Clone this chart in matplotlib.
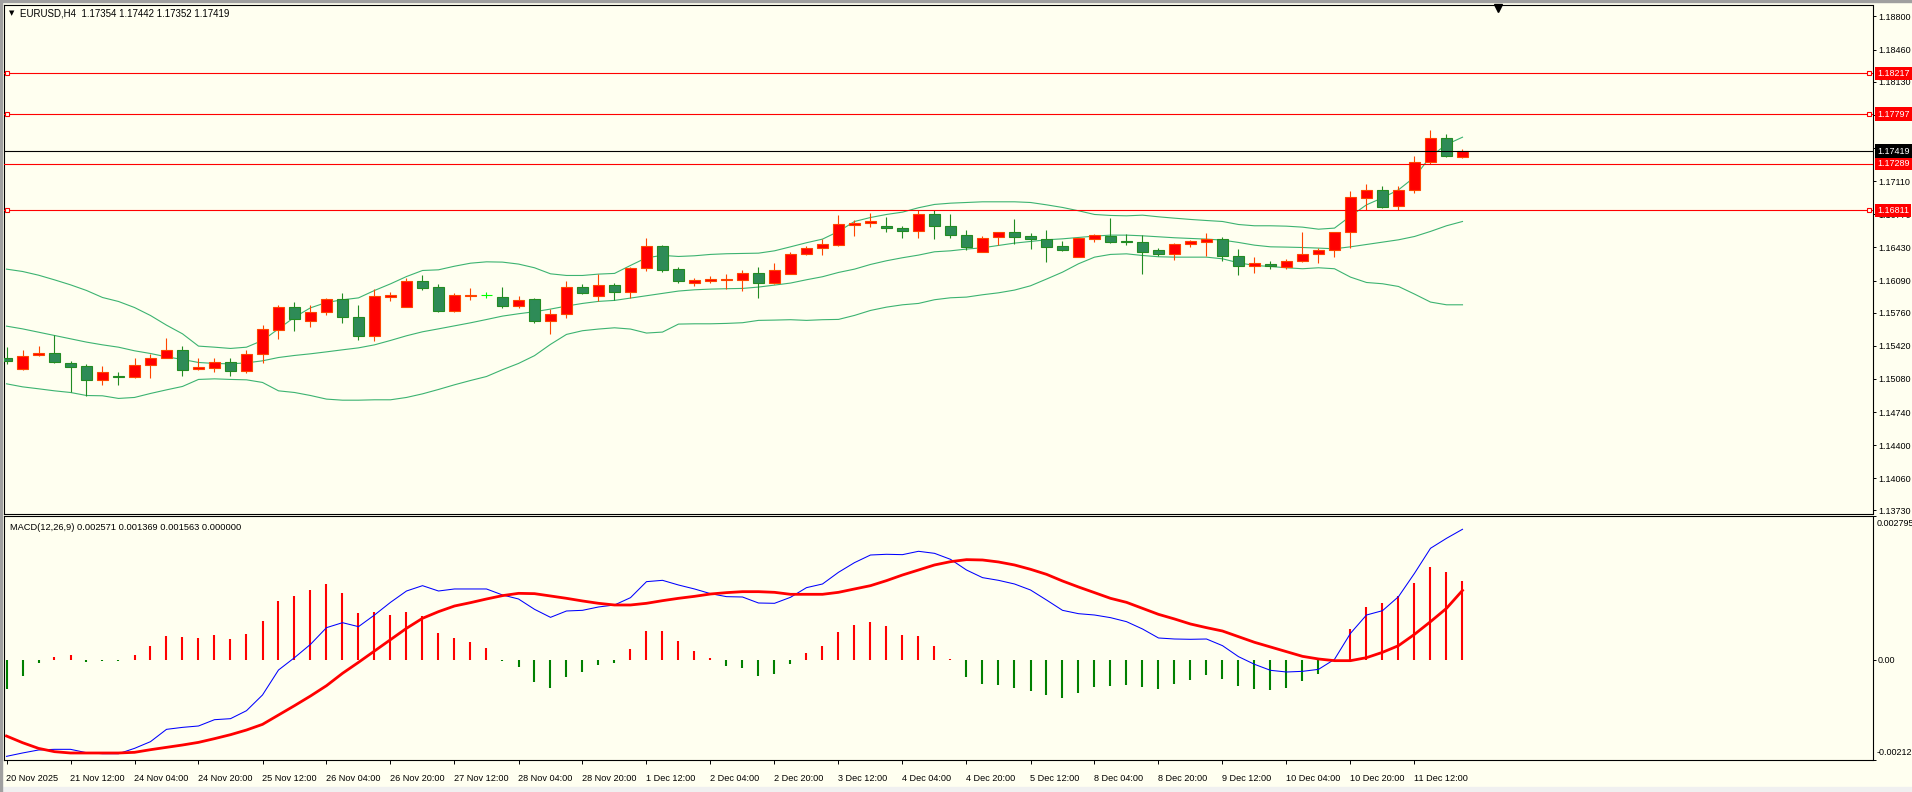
import numpy as np
import matplotlib.pyplot as plt
import matplotlib.transforms as mtransforms
from matplotlib.patches import Rectangle

# ---- data (EURUSD H4, 20 Nov 20:00 .. 12 Dec 00:00) ----
opens = [1.15290, 1.15180, 1.15324, 1.15351, 1.15245, 1.15208, 1.15071, 1.15109, 1.15098, 1.15225,
         1.15297, 1.15382, 1.15180, 1.15194, 1.15256, 1.15160, 1.15334, 1.15581, 1.15820, 1.15673,
         1.15765, 1.15902, 1.15717, 1.15519, 1.15919, 1.15817, 1.16087, 1.16025, 1.15776, 1.15936,
         1.15940, 1.15923, 1.15828, 1.15896, 1.15677, 1.15749, 1.16026, 1.15930, 1.16047, 1.15971,
         1.16221, 1.16447, 1.16211, 1.16067, 1.16084, 1.16098, 1.16098, 1.16170, 1.16067, 1.16159,
         1.16365, 1.16426, 1.16457, 1.16662, 1.16679, 1.16652, 1.16631, 1.16601, 1.16775, 1.16652,
         1.16560, 1.16385, 1.16539, 1.16590, 1.16542, 1.16518, 1.16440, 1.16330, 1.16518, 1.16552,
         1.16491, 1.16488, 1.16399, 1.16361, 1.16464, 1.16484, 1.16518, 1.16344, 1.16238, 1.16262,
         1.16228, 1.16293, 1.16361, 1.16405, 1.16590, 1.16939, 1.17021, 1.16854, 1.17018, 1.17305,
         1.17555, 1.17354]
highs = [1.15406, 1.15382, 1.15423, 1.15533, 1.15269, 1.15235, 1.15208, 1.15150, 1.15290, 1.15338,
         1.15505, 1.15413, 1.15290, 1.15300, 1.15300, 1.15372, 1.15629, 1.15844, 1.15865, 1.15834,
         1.15912, 1.15957, 1.15841, 1.16005, 1.15977, 1.16118, 1.16142, 1.16056, 1.15967, 1.16018,
         1.15970, 1.16019, 1.15927, 1.15906, 1.15794, 1.16081, 1.16050, 1.16153, 1.16060, 1.16225,
         1.16522, 1.16450, 1.16231, 1.16112, 1.16139, 1.16159, 1.16194, 1.16231, 1.16265, 1.16378,
         1.16443, 1.16515, 1.16758, 1.16707, 1.16778, 1.16737, 1.16645, 1.16816, 1.16809, 1.16768,
         1.16604, 1.16542, 1.16592, 1.16717, 1.16573, 1.16604, 1.16491, 1.16529, 1.16563, 1.16727,
         1.16570, 1.16556, 1.16429, 1.16477, 1.16501, 1.16573, 1.16539, 1.16409, 1.16327, 1.16286,
         1.16313, 1.16583, 1.16429, 1.16592, 1.17004, 1.17076, 1.17062, 1.17062, 1.17363, 1.17630,
         1.17599, 1.17442]
lows = [1.15235, 1.15167, 1.15314, 1.15242, 1.14944, 1.14907, 1.15016, 1.15016, 1.15092, 1.15088,
        1.15290, 1.15109, 1.15170, 1.15150, 1.15109, 1.15139, 1.15242, 1.15488, 1.15577, 1.15618,
        1.15741, 1.15652, 1.15475, 1.15468, 1.15885, 1.15817, 1.15991, 1.15765, 1.15765, 1.15895,
        1.15909, 1.15807, 1.15807, 1.15653, 1.15540, 1.15705, 1.15947, 1.15879, 1.15886, 1.15906,
        1.16187, 1.16180, 1.16060, 1.16029, 1.16060, 1.16006, 1.15982, 1.15910, 1.16050, 1.16153,
        1.16351, 1.16351, 1.16443, 1.16549, 1.16638, 1.16583, 1.16525, 1.16525, 1.16515, 1.16529,
        1.16399, 1.16385, 1.16450, 1.16467, 1.16412, 1.16279, 1.16392, 1.16330, 1.16484, 1.16474,
        1.16453, 1.16156, 1.16337, 1.16299, 1.16433, 1.16337, 1.16289, 1.16146, 1.16166, 1.16207,
        1.16207, 1.16279, 1.16265, 1.16330, 1.16426, 1.16816, 1.16833, 1.16819, 1.16987, 1.17288,
        1.17353, 1.17352]
closes = [1.15263, 1.15317, 1.15348, 1.15252, 1.15201, 1.15068, 1.15153, 1.15102, 1.15225, 1.15300,
          1.15379, 1.15170, 1.15198, 1.15256, 1.15160, 1.15338, 1.15588, 1.15820, 1.15694, 1.15772,
          1.15902, 1.15714, 1.15519, 1.15933, 1.15943, 1.16087, 1.16012, 1.15776, 1.15943, 1.15943,
          1.15940, 1.15828, 1.15893, 1.15677, 1.15749, 1.16026, 1.15961, 1.16047, 1.15971, 1.16221,
          1.16447, 1.16197, 1.16088, 1.16091, 1.16101, 1.16101, 1.16170, 1.16067, 1.16200, 1.16365,
          1.16426, 1.16460, 1.16666, 1.16683, 1.16703, 1.16631, 1.16601, 1.16775, 1.16652, 1.16560,
          1.16436, 1.16529, 1.16590, 1.16535, 1.16515, 1.16433, 1.16402, 1.16522, 1.16559, 1.16484,
          1.16484, 1.16382, 1.16361, 1.16467, 1.16491, 1.16515, 1.16341, 1.16238, 1.16265, 1.16235,
          1.16293, 1.16364, 1.16399, 1.16590, 1.16949, 1.17021, 1.16843, 1.17021, 1.17308, 1.17555,
          1.17367, 1.17419]

bb_upper = [1.16207, 1.16183, 1.16145, 1.16097, 1.16046, 1.15988, 1.15916, 1.15875, 1.15813, 1.15731,
            1.15632, 1.15543, 1.15417, 1.15406, 1.15393, 1.15406, 1.15475, 1.15594, 1.15714, 1.15810,
            1.15865, 1.15892, 1.15912, 1.15988, 1.16056, 1.16131, 1.16193, 1.16200, 1.16237, 1.16268,
            1.16282, 1.16279, 1.16259, 1.16221, 1.16159, 1.16142, 1.16142, 1.16156, 1.16163, 1.16245,
            1.16324, 1.16348, 1.16337, 1.16344, 1.16358, 1.16365, 1.16368, 1.16371, 1.16395, 1.16436,
            1.16478, 1.16515, 1.16594, 1.16696, 1.16737, 1.16768, 1.16792, 1.16837, 1.16871, 1.16884,
            1.16891, 1.16898, 1.16898, 1.16898, 1.16891, 1.16867, 1.16840, 1.16806, 1.16768, 1.16758,
            1.16754, 1.16761, 1.16744, 1.16730, 1.16717, 1.16706, 1.16696, 1.16665, 1.16652, 1.16652,
            1.16648, 1.16638, 1.16617, 1.16628, 1.16751, 1.16867, 1.16939, 1.17021, 1.17151, 1.17363,
            1.17486, 1.17561]
bb_middle = [1.15622, 1.15594, 1.15560, 1.15526, 1.15492, 1.15458, 1.15430, 1.15406, 1.15369, 1.15341,
             1.15307, 1.15280, 1.15249, 1.15239, 1.15235, 1.15245, 1.15266, 1.15300, 1.15321, 1.15338,
             1.15358, 1.15379, 1.15399, 1.15430, 1.15475, 1.15523, 1.15564, 1.15594, 1.15625, 1.15656,
             1.15690, 1.15725, 1.15749, 1.15770, 1.15797, 1.15828, 1.15855, 1.15876, 1.15886, 1.15910,
             1.15934, 1.15958, 1.15982, 1.15995, 1.16002, 1.16006, 1.16009, 1.16023, 1.16043, 1.16064,
             1.16098, 1.16129, 1.16173, 1.16207, 1.16255, 1.16293, 1.16324, 1.16351, 1.16385, 1.16395,
             1.16413, 1.16426, 1.16450, 1.16474, 1.16491, 1.16508, 1.16518, 1.16532, 1.16546, 1.16556,
             1.16556, 1.16549, 1.16539, 1.16529, 1.16522, 1.16515, 1.16505, 1.16481, 1.16453, 1.16436,
             1.16433, 1.16429, 1.16423, 1.16416, 1.16436, 1.16460, 1.16484, 1.16508, 1.16542, 1.16594,
             1.16652, 1.16696]
bb_lower = [1.15030, 1.14999, 1.14979, 1.14958, 1.14941, 1.14910, 1.14907, 1.14880, 1.14890, 1.14931,
            1.14968, 1.15003, 1.15075, 1.15081, 1.15075, 1.15071, 1.15044, 1.14958, 1.14941, 1.14910,
            1.14873, 1.14862, 1.14862, 1.14866, 1.14866, 1.14890, 1.14927, 1.14972, 1.15020, 1.15064,
            1.15105, 1.15175, 1.15239, 1.15319, 1.15435, 1.15537, 1.15575, 1.15592, 1.15605, 1.15592,
            1.15551, 1.15561, 1.15643, 1.15646, 1.15646, 1.15650, 1.15657, 1.15681, 1.15684, 1.15688,
            1.15681, 1.15688, 1.15691, 1.15732, 1.15783, 1.15817, 1.15841, 1.15855, 1.15893, 1.15913,
            1.15920, 1.15944, 1.15964, 1.15992, 1.16036, 1.16105, 1.16176, 1.16262, 1.16330, 1.16358,
            1.16364, 1.16347, 1.16334, 1.16330, 1.16330, 1.16330, 1.16313, 1.16272, 1.16245, 1.16234,
            1.16221, 1.16211, 1.16221, 1.16211, 1.16125, 1.16070, 1.16057, 1.16029, 1.15951, 1.15869,
            1.15841, 1.15841]

macd_main = [-0.001895, -0.001829, -0.001770, -0.001757, -0.001757, -0.001823, -0.001843, -0.001843, -0.001738, -0.001606,
             -0.001364, -0.001325, -0.001298, -0.001174, -0.001154, -0.000997, -0.000688, -0.000197, 0.000046, 0.000308,
             0.000636, 0.000734, 0.000656, 0.000885, 0.001134, 0.001357, 0.001462, 0.001357, 0.001397, 0.001397,
             0.001397, 0.001279, 0.001200, 0.000997, 0.000839, 0.000964, 0.000977, 0.001043, 0.001082, 0.001226,
             0.001541, 0.001567, 0.001475, 0.001397, 0.001305, 0.001246, 0.001239, 0.001121, 0.001115, 0.001233,
             0.001423, 0.001495, 0.001725, 0.001915, 0.002065, 0.002079, 0.002072, 0.002138, 0.002098, 0.001980,
             0.001770, 0.001620, 0.001567, 0.001495, 0.001377, 0.001180, 0.000977, 0.000911, 0.000885, 0.000833,
             0.000754, 0.000610, 0.000433, 0.000413, 0.000407, 0.000413, 0.000282, 0.000066, -0.000085, -0.000203,
             -0.000236, -0.000223, -0.000184, 0.000013, 0.000525, 0.000885, 0.000970, 0.001246, 0.001705, 0.002197,
             0.002393, 0.002571]
macd_signal = [-0.001495, -0.001626, -0.001738, -0.001803, -0.001829, -0.001829, -0.001829, -0.001829, -0.001816, -0.001764,
               -0.001718, -0.001672, -0.001620, -0.001547, -0.001469, -0.001377, -0.001266, -0.001082, -0.000898, -0.000708,
               -0.000505, -0.000262, -0.000046, 0.000177, 0.000400, 0.000623, 0.000820, 0.000951, 0.001062, 0.001128,
               0.001200, 0.001266, 0.001311, 0.001305, 0.001259, 0.001213, 0.001161, 0.001115, 0.001082, 0.001082,
               0.001115, 0.001167, 0.001213, 0.001252, 0.001298, 0.001325, 0.001344, 0.001344, 0.001331, 0.001292,
               0.001292, 0.001292, 0.001331, 0.001397, 0.001462, 0.001561, 0.001672, 0.001770, 0.001869, 0.001934,
               0.001974, 0.001967, 0.001928, 0.001869, 0.001784, 0.001685, 0.001554, 0.001436, 0.001325, 0.001213,
               0.001134, 0.001016, 0.000898, 0.000807, 0.000708, 0.000636, 0.000570, 0.000459, 0.000348, 0.000256,
               0.000164, 0.000072, 0.000020, -0.000013, -0.000013, 0.000046, 0.000151, 0.000282, 0.000505, 0.000754,
               0.001016, 0.001369]
macd_hist = [-0.000570, -0.000308, -0.000052, 0.000059, 0.000098, -0.000033, -0.000020, -0.000026, 0.000098, 0.000275,
             0.000472, 0.000452, 0.000433, 0.000492, 0.000413, 0.000518, 0.000767, 0.001161, 0.001259, 0.001377,
             0.001495, 0.001318, 0.000925, 0.000951, 0.000885, 0.000951, 0.000872, 0.000531, 0.000433, 0.000348,
             0.000243, -0.000013, -0.000138, -0.000426, -0.000551, -0.000334, -0.000230, -0.000098, -0.000066, 0.000216,
             0.000570, 0.000570, 0.000374, 0.000177, 0.000033, -0.000118, -0.000151, -0.000308, -0.000275, -0.000072,
             0.000144, 0.000275, 0.000551, 0.000688, 0.000748, 0.000669, 0.000492, 0.000472, 0.000275, 0.000020,
             -0.000334, -0.000472, -0.000492, -0.000551, -0.000610, -0.000688, -0.000748, -0.000649, -0.000531, -0.000511,
             -0.000492, -0.000531, -0.000570, -0.000472, -0.000393, -0.000295, -0.000374, -0.000511, -0.000570, -0.000590,
             -0.000551, -0.000413, -0.000275, 0.000000, 0.000610, 0.001043, 0.001121, 0.001259, 0.001515, 0.001829,
             0.001731, 0.001563]

level_prices = [1.18217, 1.17797, 1.17289, 1.16811]
level_anchors = [True, True, False, True]
last_price = 1.17419

price_ticks = [1.18800, 1.18460, 1.18130, 1.17790, 1.17450, 1.17110, 1.16770, 1.16430,
               1.16090, 1.15760, 1.15420, 1.15080, 1.14740, 1.14400, 1.14060, 1.13730]
time_labels = ["20 Nov 2025", "21 Nov 12:00", "24 Nov 04:00", "24 Nov 20:00", "25 Nov 12:00",
               "26 Nov 04:00", "26 Nov 20:00", "27 Nov 12:00", "28 Nov 04:00", "28 Nov 20:00",
               "1 Dec 12:00", "2 Dec 04:00", "2 Dec 20:00", "3 Dec 12:00", "4 Dec 04:00",
               "4 Dec 20:00", "5 Dec 12:00", "8 Dec 04:00", "8 Dec 20:00", "9 Dec 12:00",
               "10 Dec 04:00", "10 Dec 20:00", "11 Dec 12:00"]
time_label_bars = list(range(0, 92, 4))

header = "EURUSD,H4  1.17354 1.17442 1.17352 1.17419"
macd_header = "MACD(12,26,9) 0.002571 0.001369 0.001563 0.000000"

# ---- style ----
BG = "#FFFFF0"
UP_FILL, UP_EDGE = "#FF0000", "#FF4500"
DN_FILL, DN_EDGE = "#2E8B57", "#228B22"
DOJI = "#00FF00"
BB_COL = "#3CB371"
W, H = 1912, 792

plt.rcParams["font.family"] = ["Liberation Sans", "DejaVu Sans"]
plt.rcParams["font.size"] = 6.5


def frame(x0, y0, x1, y1):
    return [x0 / W, 1 - y1 / H, (x1 - x0) / W, (y1 - y0) / H]


fig = plt.figure(figsize=(W / 100, H / 100), dpi=100, facecolor=BG)
fig.add_artist(Rectangle((0, 0), 1, 5 / H, transform=fig.transFigure, color="#F0F0F0"))
fig.add_artist(Rectangle((0, 1 - 2 / H), 1, 2 / H, transform=fig.transFigure, color="#A0A0A0"))
fig.add_artist(Rectangle((0, 0), 2 / W, 1, transform=fig.transFigure, color="#A0A0A0"))

ax = fig.add_axes(frame(3.5, 4.5, 1872.5, 513.5), facecolor=BG)
mx = fig.add_axes(frame(3.5, 515.5, 1872.5, 759.5), facecolor=BG)

bars = np.arange(len(closes))
for a in (ax, mx):
    a.set_xlim(-0.1875, 116.625)
    for s in a.spines.values():
        s.set_color("black")
        s.set_linewidth(0.8)

# ---- price panel ----
ax.set_ylim(1.13699, 1.18923)
ax.plot(bars, bb_upper, color=BB_COL, lw=0.8, zorder=2)
ax.plot(bars, bb_middle, color=BB_COL, lw=0.8, zorder=2)
ax.plot(bars, bb_lower, color=BB_COL, lw=0.8, zorder=2)

bw = 0.66
for i, (o, h, l, c) in enumerate(zip(opens, highs, lows, closes)):
    if c > o:
        fill, edge = UP_FILL, UP_EDGE
    elif c < o:
        fill, edge = DN_FILL, DN_EDGE
    else:
        fill, edge = DOJI, DOJI
    ax.vlines(i, l, h, color=edge, lw=0.8, zorder=3)
    ax.add_patch(Rectangle((i - bw / 2, min(o, c)), bw, abs(c - o),
                           facecolor=fill, edgecolor=edge, lw=0.8, zorder=4))

ybl = mtransforms.blended_transform_factory(ax.transAxes, ax.transData)
for lvl, anchored in zip(level_prices, level_anchors):
    ax.axhline(lvl, color="red", lw=0.8, zorder=5)
    if anchored:
        ax.plot([0.0019, 0.9981], [lvl, lvl], transform=ybl, ls="none", marker="s", ms=3.3,
                mfc=BG, mec="red", mew=0.8, zorder=6, clip_on=False)
    ax.annotate(f"{lvl:.5f}", xy=(1, lvl), xycoords=ybl, xytext=(3.2, 0), textcoords="offset points",
                ha="left", va="center", color="white", fontsize=6.5, annotation_clip=False, zorder=10,
                bbox=dict(boxstyle="square,pad=0.25", fc="red", ec="none"))
ax.axhline(last_price, color="black", lw=0.8, zorder=5)
ax.annotate(f"{last_price:.5f}", xy=(1, last_price), xycoords=ybl, xytext=(3.2, 0),
            textcoords="offset points", ha="left", va="center", color="white", fontsize=6.5,
            annotation_clip=False, zorder=10,
            bbox=dict(boxstyle="square,pad=0.25", fc="black", ec="none"))

ax.yaxis.tick_right()
ax.set_yticks(price_ticks, [f"{v:.5f}" for v in price_ticks])
ax.tick_params(axis="y", length=2.5, width=0.7, pad=1.5, labelsize=6.5)
ax.set_xticks([])

# chart-shift marker and header
ax.plot([0.7994], [0.994], transform=ax.transAxes, marker="v", ms=6, color="black",
        clip_on=False, zorder=11)
fig.text(12 / W, 1 - 13 / H, "\u25bc", fontsize=5, ha="center", va="center", family="DejaVu Sans")
fig.text(20 / W, 1 - 13 / H, header, ha="left", va="center", fontsize=7.0)

# ---- MACD panel ----
mx.set_ylim(-0.001957, 0.002842)
hist = np.array(macd_hist)
mx.vlines(bars[hist >= 0], 0, hist[hist >= 0], color="#FF0000", lw=1.5, zorder=2)
mx.vlines(bars[hist < 0], 0, hist[hist < 0], color="#008000", lw=1.5, zorder=2)
mx.plot(bars, macd_main, color="#0000FF", lw=0.75, zorder=3)
mx.plot(bars, macd_signal, color="#FF0000", lw=2.0, zorder=4)

mx.yaxis.tick_right()
mx.set_yticks([0.002842, 0.0, -0.001957], ["", "0.00", ""])
mx.tick_params(axis="y", length=2.5, width=0.7, pad=1.5, labelsize=6.5)
mtr = mx.transAxes
mx.annotate("0.002795", xy=(1, 1), xycoords=mtr, xytext=(3.2, -5.8), textcoords="offset points",
            ha="left", va="center", fontsize=6.5, annotation_clip=False)
mx.annotate("-0.00212", xy=(1, 0), xycoords=mtr, xytext=(3.2, 4.7), textcoords="offset points",
            ha="left", va="center", fontsize=6.5, annotation_clip=False)

mx.set_xticks(time_label_bars, time_labels, ha="left")
mx.tick_params(axis="x", length=3.2, width=0.7, pad=7, labelsize=6.6)

fig.text(10 / W, 1 - 527 / H, macd_header, ha="left", va="center", fontsize=6.7)

fig.savefig("out.png", dpi=100, facecolor=BG)
